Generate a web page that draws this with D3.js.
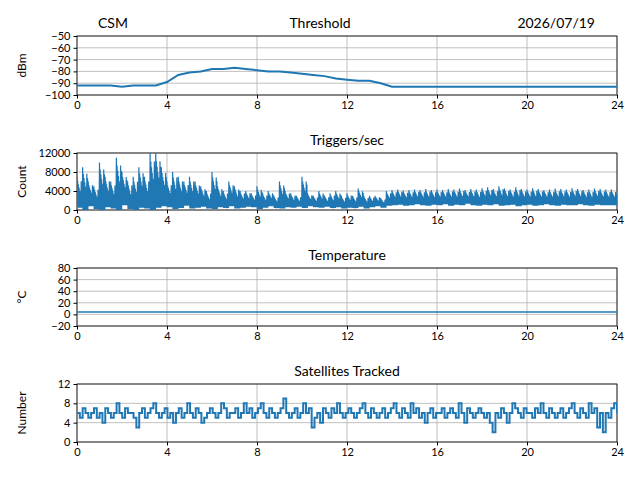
<!DOCTYPE html>
<html><head><meta charset="utf-8">
<script src="https://cdn.jsdelivr.net/npm/d3@7"></script>
<style>
body{margin:0;background:#fff;}
text{font-family:Lato,sans-serif;}
</style></head>
<body><svg id="c" width="640" height="480"></svg>
<script>
// hours 0..24, every 0.5h
var thresholdVals = [-92,-92,-92,-92,-93,-92,-92,-92,-89,-83,-81,-80,-78,-78,-77,-78,-79,-80,-80,-81,-82,-83,-84,-86,-87,-88,-88,-90,-93,-93,-93,-93,-93,-93,-93,-93,-93,-93,-93,-93,-93,-93,-93,-93,-93,-93,-93,-93,-93];
// every 0.25h: peaks and troughs
var trigHigh = [7000,9000,6000,5000,10000,7000,6000,11000,8000,6000,7000,9000,7000,12000,12000,9000,
  6000,8000,7000,6000,7000,6000,5000,4000,8000,5000,4000,6000,5000,4000,4000,3500,
  5000,3500,4000,3000,6000,4000,3500,3000,7000,3500,3000,4000,3000,3500,4000,3000,
  3500,3000,4500,3000,3000,3000,2500,4000,4200,4300,4100,4200,4300,4200,4400,4200,
  4300,4200,4400,4300,4500,4200,4400,4300,4600,4800,4400,5000,4500,4300,4800,4400,
  4300,4600,4400,4200,4300,4500,4400,4300,4600,4400,4200,4300,4500,4400,4300,4300];
var trigLow = [500,0,800,200,0,600,300,0,1000,200,0,500,300,0,500,800,
  600,200,400,900,300,500,700,300,200,600,400,800,300,500,700,600,
  200,500,800,400,300,600,500,700,400,800,600,500,700,400,600,300,
  500,400,700,300,600,800,500,900,1000,1100,900,1000,1200,1000,900,1100,
  1000,1200,900,1100,1000,1300,1000,900,1100,1000,1200,900,1000,1100,800,1000,
  1100,900,1000,1200,1000,900,1100,1000,1000,1200,1000,900,1100,1000,1000,1000];
var tempVals = [4,4,4,4,4,4,4,4,4,4,4,4,4];
var satVals = [6,5,7,6,5,6,7,5,6,4,7,6,5,6,8,6,5,7,6,6,5,3,6,7,5,6,7,8,6,5,6,7,
  5,6,4,6,7,5,6,8,6,5,7,6,4,5,6,7,6,5,6,8,7,5,6,6,7,5,6,8,6,7,5,6,
  7,8,6,5,7,6,5,6,7,9,6,5,6,7,5,6,8,6,7,3,5,6,4,7,6,5,7,6,8,6,5,6,
  7,6,5,6,7,8,6,5,7,6,5,6,7,5,6,7,8,6,5,7,6,5,8,6,7,5,6,4,6,7,5,6,
  6,7,5,6,7,6,5,8,6,4,7,6,5,6,7,6,5,6,4,2,6,5,7,6,4,6,8,7,6,5,7,6,
  6,5,7,6,8,6,5,7,6,5,6,7,5,6,7,8,6,5,7,6,5,8,6,7,3,6,2,6,5,7,8,6];
var xTicks = [0,4,8,12,16,20,24];

var svg = d3.select('#c');
var x = d3.scaleLinear().domain([0,24]).range([77,617]);
var blue = '#1f77b4';

function panel(top, bottom, yDomain, yTicks, ylabel, title, fmt) {
	var y = d3.scaleLinear().domain(yDomain).range([bottom, top]);
	var g = svg.append('g');
	xTicks.forEach(function (t) {
		g.append('line').attr('x1', x(t)).attr('x2', x(t)).attr('y1', top).attr('y2', bottom).attr('stroke', '#b0b0b0').attr('stroke-width', 0.8);
	});
	yTicks.forEach(function (t) {
		g.append('line').attr('x1', 77).attr('x2', 617).attr('y1', y(t)).attr('y2', y(t)).attr('stroke', '#b0b0b0').attr('stroke-width', 0.8);
	});
	g.append('g').attr('transform', 'translate(0,' + bottom + ')')
		.call(d3.axisBottom(x).tickValues(xTicks).tickSize(3.5).tickSizeOuter(0));
	g.append('g').attr('transform', 'translate(77,0)')
		.call(d3.axisLeft(y).tickValues(yTicks).tickSize(3.5).tickSizeOuter(0).tickFormat(fmt || function (d) { return String(d).replace('-', '\u2212'); }));
	g.selectAll('.tick text').attr('font-size', 11).attr('fill', '#000').style('font-family', 'Lato,sans-serif');
	g.selectAll('.domain').remove();
	g.append('rect').attr('x', 77).attr('y', top).attr('width', 540).attr('height', bottom - top).attr('fill', 'none').attr('stroke', '#000').attr('stroke-width', 0.8);
	g.append('text').attr('transform', 'translate(26,' + (top + bottom) / 2 + ') rotate(-90)').attr('text-anchor', 'middle').attr('font-size', 12).text(ylabel);
	if (title) g.append('text').attr('x', 347).attr('y', top - 8).attr('text-anchor', 'middle').attr('font-size', 14).text(title);
	return {g: g, y: y, top: top, bottom: bottom};
}

function draw(p, pts, w, curve) {
	p.g.append('clipPath').attr('id', 'clip' + p.top).append('rect').attr('x', 77).attr('y', p.top).attr('width', 540).attr('height', p.bottom - p.top);
	p.g.append('path').datum(pts)
		.attr('clip-path', 'url(#clip' + p.top + ')')
		.attr('d', d3.line().curve(curve || d3.curveLinear).x(function (d) { return x(d[0]); }).y(function (d) { return p.y(d[1]); }))
		.attr('fill', 'none').attr('stroke', blue).attr('stroke-width', w || 1.5);
}

var p1 = panel(36, 95, [-100, -50], [-100,-90,-80,-70,-60,-50], 'dBm', null);
draw(p1, thresholdVals.map(function (v, i) { return [i * 0.5, v]; }), 2);

var p2 = panel(153, 210, [0, 12000], [0,4000,8000,12000], 'Count', 'Triggers/sec', d3.format('d'));
var tp = [];
trigHigh.forEach(function (h, i) {
	var t = i * 0.25, lo = trigLow[i], n = 16;
	for (var k = 0; k < n; k++) {
		var peak = k === 0 ? h : lo + (h - lo) * (0.45 + 0.4 * ((k * 7) % 5) / 4);
		tp.push([t + k * 0.25 / n, k % 2 ? lo : peak]);
	}
});
draw(p2, tp, 1.2);

var p3 = panel(268, 326, [-20, 80], [-20,0,20,40,60,80], '\u00b0C', 'Temperature');
draw(p3, tempVals.map(function (v, i) { return [i * 2, v]; }), 1.5);

var p4 = panel(384, 442, [0, 12], [0,4,8,12], 'Number', 'Satellites Tracked');
draw(p4, satVals.map(function (v, i) { return [i * 24 / (satVals.length - 1), v]; }), 2, d3.curveStepAfter);

svg.append('text').attr('x', 98).attr('y', 28).attr('font-size', 14).text('CSM');
svg.append('text').attr('x', 320).attr('y', 28).attr('text-anchor', 'middle').attr('font-size', 14).text('Threshold');
svg.append('text').attr('x', 595).attr('y', 28).attr('text-anchor', 'end').attr('font-size', 14).text('2026/07/19');
</script></body></html>
